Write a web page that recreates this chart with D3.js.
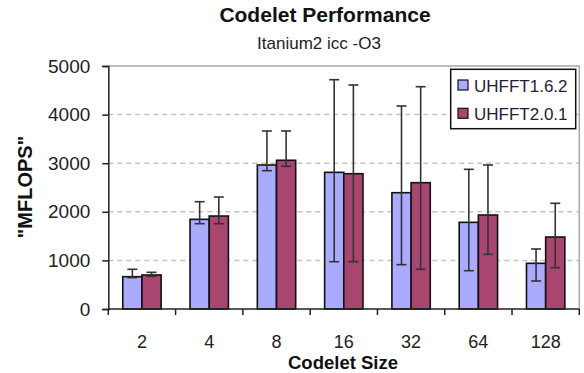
<!DOCTYPE html>
<html>
<head>
<meta charset="utf-8">
<script src="https://cdn.jsdelivr.net/npm/d3@7"></script>
<style>
  html, body { margin: 0; padding: 0; background: #fff; }
  svg { display: block; font-family: "Liberation Sans", Arial, sans-serif; }
</style>
</head>
<body>
<svg id="chart" width="584" height="373"></svg>
<script>
// Codelet sizes on the x axis
const categories = ["2", "4", "8", "16", "32", "64", "128"];
const seriesNames = ["UHFFT1.6.2", "UHFFT2.0.1"];

// Average MFLOPS per codelet size
const uhfft162 = [665, 1845, 2963, 2812, 2393, 1783, 940];
const uhfft201 = [700, 1913, 3060, 2784, 2599, 1934, 1481];

// Error bar extents (low / high)
const uhfft162Low  = [645, 1755, 2846, 973, 912, 788, 576];
const uhfft162High = [817, 2208, 3663, 4718, 4177, 2874, 1235];
const uhfft201Low  = [672, 1755, 2936, 973, 817, 1125, 850];
const uhfft201High = [755, 2304, 3663, 4609, 4574, 2963, 2175];

const yTicks = [0, 1000, 2000, 3000, 4000, 5000];

const colors = ["#aaaaff", "#a84670"];

const svg = d3.select("#chart");
const plotLeft = 108.3, plotRight = 579.3, plotTop = 66, plotBottom = 309;

const x = d3.scaleBand().domain(categories).range([plotLeft, plotRight]).padding(0);
const xs = d3.scaleBand().domain(seriesNames)
  .range([x.bandwidth() * 0.215, x.bandwidth() * 0.785]).padding(0);
const y = d3.scaleLinear().domain([0, 5000]).range([plotBottom, plotTop]);

const series = [
  { name: seriesNames[0], values: uhfft162, lo: uhfft162Low, hi: uhfft162High, color: colors[0] },
  { name: seriesNames[1], values: uhfft201, lo: uhfft201Low, hi: uhfft201High, color: colors[1] }
];

// Dashed gridlines
svg.append("g").selectAll("line")
  .data(yTicks.filter(t => t > 0 && t < 5000))
  .join("line")
  .attr("x1", plotLeft).attr("x2", plotRight)
  .attr("y1", d => y(d)).attr("y2", d => y(d))
  .attr("stroke", "#c4c4c4").attr("stroke-width", 1.5)
  .attr("stroke-dasharray", "5,4");

// Plot frame (top and right)
svg.append("path")
  .attr("d", `M${plotLeft},${plotTop}H${plotRight}V${plotBottom}`)
  .attr("fill", "none").attr("stroke", "#a8a8a8").attr("stroke-width", 1.5);

// Bars
const groups = svg.append("g").selectAll("g")
  .data(series).join("g");

groups.selectAll("rect")
  .data(s => s.values.map((v, i) => ({ s, v, i })))
  .join("rect")
  .attr("x", d => x(categories[d.i]) + xs(d.s.name))
  .attr("y", d => y(d.v))
  .attr("width", xs.bandwidth())
  .attr("height", d => y(0) - y(d.v))
  .attr("fill", d => d.s.color)
  .attr("stroke", "#111").attr("stroke-width", 1.6);

// Error bars
const capHalf = 5;
groups.each(function (s) {
  const g = d3.select(this);
  const cx = i => x(categories[i]) + xs(s.name) + xs.bandwidth() / 2;
  s.values.forEach((v, i) => {
    const eb = g.append("g").attr("stroke", "#333").attr("stroke-width", 1.6);
    eb.append("line").attr("x1", cx(i)).attr("x2", cx(i))
      .attr("y1", y(s.lo[i])).attr("y2", y(s.hi[i]));
    eb.append("line").attr("x1", cx(i) - capHalf).attr("x2", cx(i) + capHalf)
      .attr("y1", y(s.hi[i])).attr("y2", y(s.hi[i]));
    eb.append("line").attr("x1", cx(i) - capHalf).attr("x2", cx(i) + capHalf)
      .attr("y1", y(s.lo[i])).attr("y2", y(s.lo[i]));
  });
});

// Y axis
const yAxis = svg.append("g")
  .attr("transform", `translate(${plotLeft},0)`)
  .call(d3.axisLeft(y).tickValues(yTicks).tickSize(6).tickPadding(12).tickFormat(d3.format("d")));
yAxis.select(".domain").attr("stroke", "#222").attr("stroke-width", 1.5);
yAxis.selectAll(".tick line").attr("stroke", "#222").attr("stroke-width", 1.5);
yAxis.selectAll(".tick text").attr("font-size", 19).attr("fill", "#222")
  .attr("font-family", "Liberation Sans, Arial, sans-serif");

// X axis: ticks sit on band boundaries
const xAxisG = svg.append("g").attr("transform", `translate(0,${plotBottom})`);
xAxisG.append("line").attr("x1", plotLeft).attr("x2", plotRight)
  .attr("stroke", "#222").attr("stroke-width", 1.5);
const boundaries = categories.map(c => x(c)).concat([plotRight]);
xAxisG.selectAll("line.tk").data(boundaries).join("line")
  .attr("class", "tk")
  .attr("x1", d => d).attr("x2", d => d).attr("y1", 0).attr("y2", 6)
  .attr("stroke", "#222").attr("stroke-width", 1.5);
xAxisG.selectAll("text").data(categories).join("text")
  .attr("x", d => x(d) + x.bandwidth() / 2)
  .attr("y", 38.5)
  .attr("text-anchor", "middle")
  .attr("font-size", 18).attr("fill", "#222")
  .text(d => d);

// Titles
svg.append("text").attr("x", 325).attr("y", 22).attr("text-anchor", "middle")
  .attr("font-size", 21).attr("font-weight", "bold").attr("fill", "#111")
  .text("Codelet Performance");
svg.append("text").attr("x", 319).attr("y", 49).attr("text-anchor", "middle")
  .attr("font-size", 17).attr("fill", "#222")
  .text("Itanium2 icc -O3");
svg.append("text").attr("x", 343).attr("y", 369).attr("text-anchor", "middle")
  .attr("font-size", 18.5).attr("font-weight", "bold").attr("fill", "#111")
  .text("Codelet Size");
svg.append("text")
  .attr("transform", "translate(32,187) rotate(-90)")
  .attr("text-anchor", "middle")
  .attr("font-size", 20).attr("font-weight", "bold").attr("fill", "#111")
  .text("\"MFLOPS\"");

// Legend
const legend = svg.append("g");
legend.append("rect").attr("x", 450.7).attr("y", 69.3).attr("width", 125).attr("height", 59.4)
  .attr("fill", "#fff").attr("stroke", "#111").attr("stroke-width", 1.5);
series.forEach((s, i) => {
  const cy = 85 + i * 28.3;
  legend.append("rect").attr("x", 458).attr("y", cy - 5).attr("width", 10).attr("height", 10)
    .attr("fill", s.color).attr("stroke", "#111").attr("stroke-width", 1.2);
  legend.append("text").attr("x", 474).attr("y", cy + 6.5)
    .attr("font-size", 17).attr("fill", "#2a1a3a").text(s.name);
});
</script>
</body>
</html>
